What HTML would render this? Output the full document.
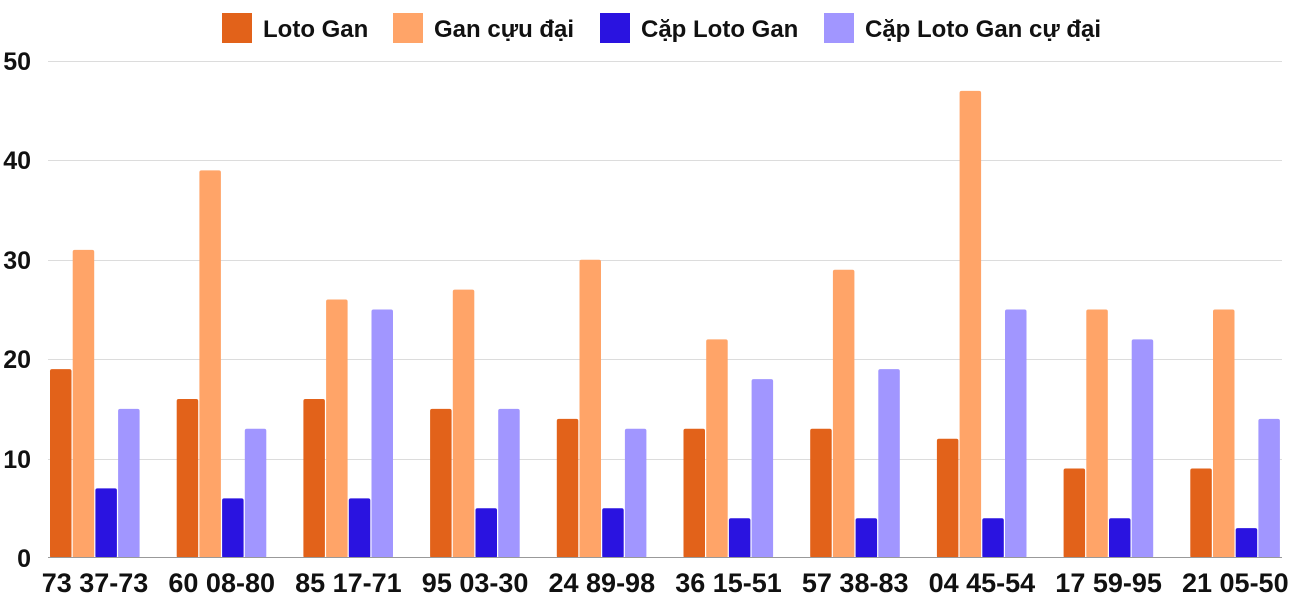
<!DOCTYPE html>
<html><head><meta charset="utf-8"><style>
html,body{margin:0;padding:0;background:#fff;}
svg{display:block;font-family:"Liberation Sans",sans-serif;font-weight:bold;}
</style></head><body>
<svg width="1300" height="600" viewBox="0 0 1300 600" xmlns="http://www.w3.org/2000/svg">
<g stroke="#dcdcdc" stroke-width="1">
<line x1="48" y1="61.5" x2="1282" y2="61.5"/>
<line x1="48" y1="160.5" x2="1282" y2="160.5"/>
<line x1="48" y1="260.5" x2="1282" y2="260.5"/>
<line x1="48" y1="359.5" x2="1282" y2="359.5"/>
<line x1="48" y1="459.5" x2="1282" y2="459.5"/>
</g>
<g font-size="25" fill="#111" text-anchor="end">
<text x="31" y="70">50</text>
<text x="31" y="169">40</text>
<text x="31" y="269">30</text>
<text x="31" y="368">20</text>
<text x="31" y="468">10</text>
<text x="31" y="567">0</text>
</g>
<g id="bars"></g>
<line x1="48" y1="557.5" x2="1282" y2="557.5" stroke="#999" stroke-width="1"/>
<g id="labels" font-size="27" fill="#111" text-anchor="middle"></g>
<g font-size="24" fill="#111">
<rect x="222" y="13" width="30" height="30" fill="#e2621a"/><text x="263" y="37">Loto Gan</text>
<rect x="393" y="13" width="30" height="30" fill="#ffa468"/><text x="434" y="37">Gan cựu đại</text>
<rect x="600" y="13" width="30" height="30" fill="#2a13e0"/><text x="641" y="37">Cặp Loto Gan</text>
<rect x="824" y="13" width="30" height="30" fill="#a196ff"/><text x="865" y="37">Cặp Loto Gan cự đại</text>
</g>
</svg>
<script>
var d=[[19,31,7,15],[16,39,6,13],[16,26,6,25],[15,27,5,15],[14,30,5,13],[13,22,4,18],[13,29,4,19],[12,47,4,25],[9,25,4,22],[9,25,3,14]];
var L=["73 37-73","60 08-80","85 17-71","95 03-30","24 89-98","36 15-51","57 38-83","04 45-54","17 59-95","21 05-50"];
var c=["#e2621a","#ffa468","#2a13e0","#a196ff"];
var ns="http://www.w3.org/2000/svg",b=document.getElementById("bars"),lb=document.getElementById("labels");
for(var i=0;i<10;i++){var x0=50+i*126.7;
for(var j=0;j<4;j++){var h=d[i][j]*9.94,r=document.createElementNS(ns,"rect");
r.setAttribute("x",x0+j*22.7);r.setAttribute("y",558-h);r.setAttribute("width",21.5);r.setAttribute("height",h);r.setAttribute("rx",2);r.setAttribute("fill",c[j]);b.appendChild(r);}
var t=document.createElementNS(ns,"text");t.setAttribute("x",x0+45);t.setAttribute("y",592);t.textContent=L[i];lb.appendChild(t);}
</script>
</body></html>
